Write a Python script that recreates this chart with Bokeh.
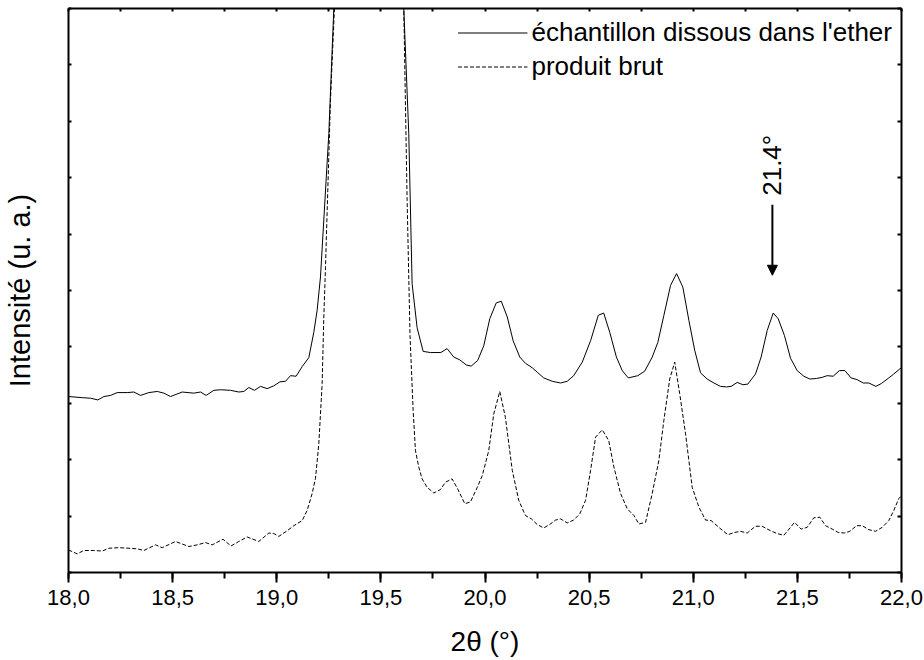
from bokeh.plotting import figure
from bokeh.models import (Range1d, LinearAxis, SingleIntervalTicker, CustomJSTickFormatter,
                          Legend, LegendItem, Arrow, NormalHead, Label)
from bokeh.embed import file_html
from bokeh.resources import INLINE
import math

# ---- data (2theta in degrees, intensity in arbitrary units) ----
theta_ether = [18.000, 18.066, 18.106, 18.141, 18.170, 18.202, 18.234, 18.282, 18.314, 18.346,
               18.386, 18.426, 18.458, 18.490, 18.546, 18.602, 18.634, 18.661, 18.698, 18.730,
               18.778, 18.818, 18.842, 18.866, 18.893, 18.922, 18.954, 18.986, 19.015, 19.042,
               19.066, 19.093, 19.122, 19.154, 19.178, 19.194, 19.210, 19.250, 19.274, 19.300,
               19.360, 19.440, 19.520, 19.580, 19.610, 19.634, 19.650, 19.674, 19.703, 19.738,
               19.788, 19.818, 19.850, 19.879, 19.910, 19.934, 19.965, 19.994, 20.023, 20.054,
               20.078, 20.107, 20.135, 20.167, 20.194, 20.227, 20.251, 20.282, 20.323, 20.363,
               20.395, 20.426, 20.467, 20.507, 20.544, 20.570, 20.599, 20.631, 20.659, 20.688,
               20.734, 20.767, 20.803, 20.830, 20.859, 20.891, 20.920, 20.950, 20.979, 21.007,
               21.035, 21.067, 21.099, 21.131, 21.160, 21.182, 21.211, 21.238, 21.262, 21.299,
               21.326, 21.355, 21.384, 21.408, 21.438, 21.467, 21.499, 21.531, 21.560, 21.592,
               21.619, 21.643, 21.672, 21.702, 21.728, 21.758, 21.787, 21.816, 21.843, 21.877,
               21.903, 21.939, 21.963, 21.992, 22.000]
int_ether = [3.12, 3.10, 3.09, 3.06, 3.12, 3.14, 3.19, 3.19, 3.20, 3.14,
             3.19, 3.21, 3.18, 3.12, 3.20, 3.18, 3.20, 3.14, 3.23, 3.24,
             3.23, 3.20, 3.21, 3.28, 3.23, 3.30, 3.26, 3.31, 3.38, 3.39,
             3.49, 3.48, 3.65, 3.81, 4.26, 4.65, 5.24, 7.78, 10.0, 12.8,
             16.5, 18.0, 16.5, 12.5, 10.0, 7.78, 5.12, 4.34, 3.92, 3.90,
             3.90, 3.97, 3.82, 3.77, 3.68, 3.66, 3.76, 4.02, 4.50, 4.78,
             4.81, 4.53, 4.11, 3.82, 3.71, 3.63, 3.55, 3.45, 3.39, 3.36,
             3.39, 3.49, 3.73, 4.11, 4.56, 4.60, 4.26, 3.82, 3.58, 3.45,
             3.49, 3.57, 3.82, 4.08, 4.56, 5.09, 5.30, 5.06, 4.47, 3.94,
             3.54, 3.43, 3.36, 3.30, 3.29, 3.30, 3.37, 3.33, 3.34, 3.52,
             3.82, 4.29, 4.60, 4.50, 4.20, 3.80, 3.58, 3.48, 3.43, 3.44,
             3.46, 3.49, 3.48, 3.58, 3.58, 3.45, 3.42, 3.36, 3.36, 3.30,
             3.35, 3.45, 3.52, 3.61, 3.63]

theta_brut = [18.000, 18.042, 18.073, 18.121, 18.162, 18.194, 18.242, 18.290, 18.330, 18.362,
              18.418, 18.450, 18.514, 18.578, 18.618, 18.658, 18.690, 18.742, 18.780, 18.818,
              18.858, 18.914, 18.962, 18.986, 19.010, 19.050, 19.082, 19.122, 19.146, 19.170,
              19.186, 19.202, 19.218, 19.226, 19.234, 19.258, 19.277, 19.300, 19.360, 19.440,
              19.520, 19.580, 19.610, 19.626, 19.640, 19.655, 19.666, 19.682, 19.698, 19.722,
              19.754, 19.786, 19.810, 19.842, 19.869, 19.903, 19.930, 19.963, 19.987, 20.018,
              20.042, 20.071, 20.098, 20.131, 20.162, 20.194, 20.223, 20.251, 20.282, 20.310,
              20.339, 20.363, 20.395, 20.426, 20.455, 20.483, 20.507, 20.531, 20.563, 20.594,
              20.619, 20.651, 20.683, 20.715, 20.739, 20.771, 20.803, 20.835, 20.859, 20.887,
              20.911, 20.935, 20.963, 20.995, 21.027, 21.059, 21.086, 21.123, 21.166, 21.198,
              21.227, 21.259, 21.299, 21.331, 21.371, 21.403, 21.435, 21.467, 21.486, 21.518,
              21.547, 21.579, 21.608, 21.635, 21.667, 21.696, 21.726, 21.752, 21.784, 21.811,
              21.843, 21.875, 21.907, 21.939, 21.963, 21.987, 22.000]
int_brut = [0.40, 0.33, 0.39, 0.39, 0.38, 0.43, 0.44, 0.43, 0.42, 0.39,
            0.49, 0.44, 0.55, 0.46, 0.49, 0.53, 0.49, 0.59, 0.47, 0.55,
            0.63, 0.55, 0.70, 0.69, 0.64, 0.74, 0.83, 0.92, 1.10, 1.40,
            1.67, 2.28, 3.35, 4.53, 5.41, 8.37, 10.0, 13.0, 18.5, 20.5,
            18.5, 13.0, 10.0, 6.60, 4.20, 2.87, 2.16, 1.87, 1.66, 1.51,
            1.41, 1.47, 1.60, 1.66, 1.48, 1.22, 1.25, 1.51, 1.72, 2.16,
            2.81, 3.21, 2.75, 1.81, 1.28, 1.01, 0.95, 0.85, 0.79, 0.85,
            0.93, 0.95, 0.88, 0.93, 1.04, 1.28, 1.81, 2.40, 2.53, 2.34,
            1.87, 1.40, 1.13, 1.01, 0.86, 0.89, 1.40, 1.99, 2.70, 3.43,
            3.73, 3.17, 2.46, 1.51, 1.16, 0.93, 0.92, 0.80, 0.67, 0.71,
            0.73, 0.70, 0.82, 0.82, 0.74, 0.69, 0.66, 0.80, 0.89, 0.77,
            0.80, 0.97, 0.98, 0.83, 0.77, 0.71, 0.70, 0.73, 0.83, 0.83,
            0.76, 0.73, 0.80, 0.92, 1.10, 1.31, 1.36]

series_names = ["échantillon dissous dans l'ether", "produit brut"]
x_label = "2θ (°)"
y_label = "Intensité (u. a.)"
marker_angle = 21.38
marker_text = "21.4°"

FONT = "Liberation Sans"

p = figure(width=924, height=660, x_range=Range1d(18, 22), y_range=Range1d(0, 10),
           output_backend="svg", toolbar_location=None,
           x_axis_type=None, y_axis_type=None,
           min_border_left=68, min_border_right=23, min_border_top=8, min_border_bottom=88)
p.outline_line_color = None
p.xgrid.visible = False
p.ygrid.visible = False
p.background_fill_color = "white"
p.border_fill_color = "white"

blank = CustomJSTickFormatter(code="return ''")

def style(ax):
    ax.axis_line_width = 2
    ax.axis_line_color = "black"
    ax.major_tick_line_width = 2
    ax.minor_tick_line_width = 2
    ax.major_tick_line_color = "black"
    ax.minor_tick_line_color = "black"
    ax.major_label_text_font = FONT
    ax.axis_label_text_font = FONT
    ax.axis_label_text_font_style = "normal"
    ax.axis_label_text_color = "black"
    ax.major_label_text_color = "black"

xb = LinearAxis(ticker=SingleIntervalTicker(interval=0.5, num_minor_ticks=2),
                formatter=CustomJSTickFormatter(code="return tick.toFixed(1).replace('.', ',')"),
                axis_label=x_label)
style(xb)
xb.major_tick_out = 10
xb.major_tick_in = 0
xb.minor_tick_out = 6
xb.minor_tick_in = 0
xb.major_label_text_font_size = "22px"
xb.major_label_standoff = 7
xb.axis_label_text_font_size = "28px"
xb.axis_label_standoff = 18
p.add_layout(xb, "below")

xt = LinearAxis(ticker=SingleIntervalTicker(interval=0.25, num_minor_ticks=0), formatter=blank)
style(xt)
xt.major_tick_in = 3
xt.major_tick_out = 0
xt.major_label_standoff = 0
p.add_layout(xt, "above")

yl = LinearAxis(ticker=SingleIntervalTicker(interval=1, num_minor_ticks=0), formatter=blank,
                axis_label=y_label)
style(yl)
yl.major_tick_in = 3
yl.major_tick_out = 0
yl.major_label_standoff = 0
yl.axis_label_text_font_size = "29px"
yl.axis_label_standoff = 33
p.add_layout(yl, "left")

yr = LinearAxis(ticker=SingleIntervalTicker(interval=1, num_minor_ticks=0), formatter=blank)
style(yr)
yr.major_tick_in = 4
yr.major_tick_out = 0
yr.major_label_standoff = 0
p.add_layout(yr, "right")

r1 = p.line(theta_ether, int_ether, line_color="black", line_width=1)
r2 = p.line(theta_brut, int_brut, line_color="black", line_width=1, line_dash="4 2")

legend = Legend(items=[LegendItem(label=series_names[0], renderers=[r1]),
                       LegendItem(label=series_names[1], renderers=[r2])],
                location="top_right", margin=0, padding=9, spacing=3,
                glyph_width=70, glyph_height=27, label_height=27, label_standoff=4,
                label_text_font=FONT, label_text_font_size="26px", label_text_color="black",
                border_line_alpha=0, background_fill_alpha=0)
p.add_layout(legend)

p.add_layout(Arrow(end=NormalHead(size=10, fill_color="black", line_color="black"),
                   x_start=marker_angle, y_start=6.52, x_end=marker_angle, y_end=5.27,
                   line_width=2, line_color="black"))
p.add_layout(Label(x=marker_angle, y=7.22, text=marker_text, angle=math.pi / 2,
                   text_align="center", text_baseline="middle",
                   text_font=FONT, text_font_size="26px", text_color="black"))

open("out.html", "w").write(file_html(p, INLINE))
